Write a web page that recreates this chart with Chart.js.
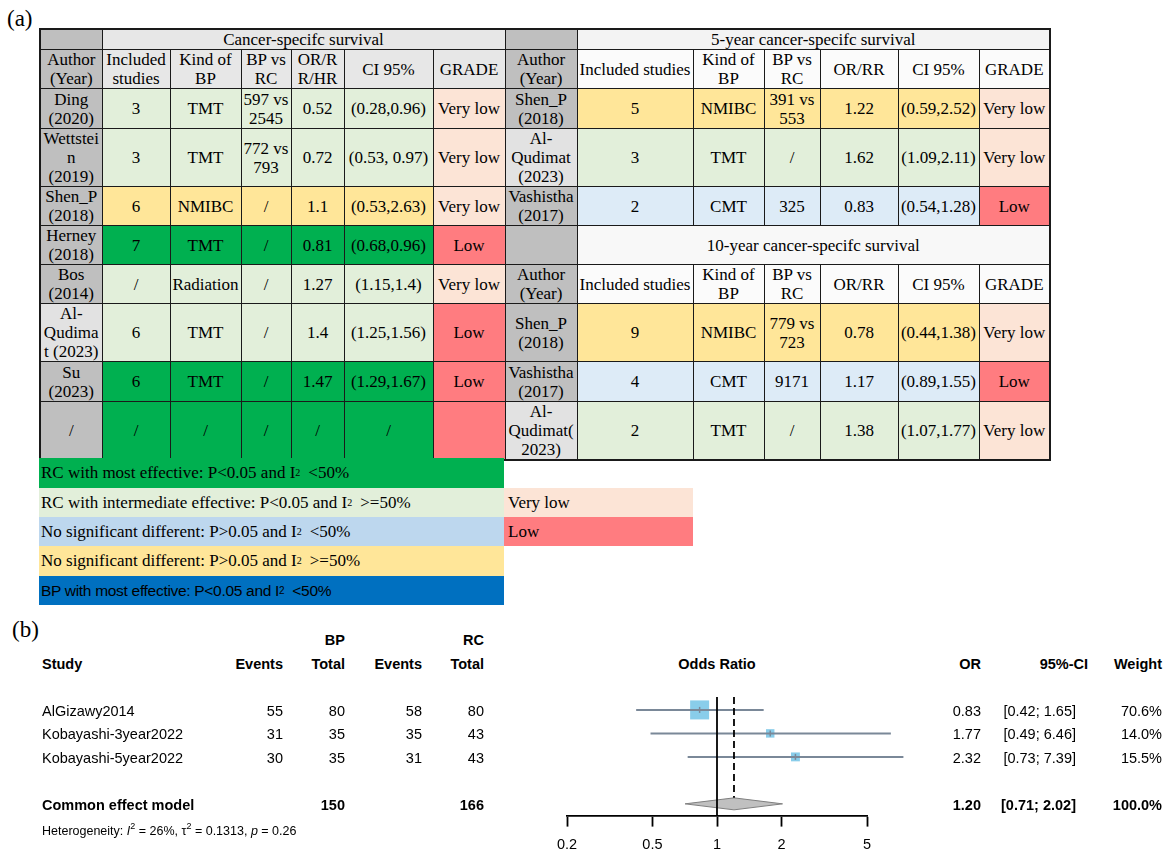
<!DOCTYPE html>
<html>
<head>
<meta charset="utf-8">
<script src="https://cdn.jsdelivr.net/npm/chart.js@4.4.1/dist/chart.umd.min.js"></script>
<style>
  body { margin: 0; width: 1164px; height: 854px; position: relative; overflow: hidden; background: #fff;
         font-family: 'Liberation Serif', 'Times New Roman', serif; color: #000; }
  .panel { position: absolute; font-size: 23px; line-height: 26px; }
  table.grade { position: absolute; left: 39px; top: 28px; width: 1011px; border-collapse: collapse;
                table-layout: fixed; font-size: 17px; border: 2px solid #1a1a1a; }
  table.grade td { border: 1px solid #1a1a1a; padding: 0; text-align: center; vertical-align: middle;
                   white-space: pre-line; line-height: 19px; overflow: hidden; }
  .legend { position: absolute; font-size: 17px; white-space: nowrap; padding-left: 2px; box-sizing: border-box;
            display: flex; align-items: center; }
  .legend sup { font-size: 10px; line-height: 0; vertical-align: 8px; margin-right: 8px; }
  .bpLegend { font-family: 'Liberation Sans Narrow', 'Arial Narrow', 'Liberation Sans', sans-serif; font-size: 15.5px; letter-spacing: -0.3px; }
  .ft { position: absolute; font-family: 'Liberation Sans', Arial, sans-serif; font-size: 14.5px; white-space: nowrap; line-height: 17px; }
  .ft.b { font-weight: bold; }
  .ft.small { font-size: 12.5px; }
  .ft sup { font-size: 9px; line-height: 0; vertical-align: 6px; }
</style>
</head>
<body>
<div class="panel" style="left:7px;top:6px">(a)</div>
<div class="panel" style="left:12px;top:617px">(b)</div>
<table class="grade" id="gradeTable"></table>
<div id="legendBox"></div>
<canvas id="forest" width="1164" height="184" style="position:absolute;left:0;top:680px"></canvas>
<div id="forestText"></div>

<script>
// ---------- (a) GRADE tables ----------
const cssTitle = 'Cancer-specifc survival';
const y5Title = '5-year cancer-specifc survival';
const y10Title = '10-year cancer-specifc survival';
const cssHeader = ['Author\n(Year)', 'Included\nstudies', 'Kind of\nBP', 'BP vs\nRC', 'OR/R\nR/HR', 'CI 95%', 'GRADE'];
const survHeader = ['Author\n(Year)', 'Included studies', 'Kind of\nBP', 'BP vs\nRC', 'OR/RR', 'CI 95%', 'GRADE'];

const cssAuthor = ['Ding\n(2020)', 'Wettstei\nn\n(2019)', 'Shen_P\n(2018)', 'Herney\n(2018)', 'Bos\n(2014)', 'Al-\nQudima\nt (2023)', 'Su\n(2023)', '/'];
const cssStudies = ['3', '3', '6', '7', '/', '6', '6', '/'];
const cssKind = ['TMT', 'TMT', 'NMIBC', 'TMT', 'Radiation', 'TMT', 'TMT', '/'];
const cssBpRc = ['597 vs\n2545', '772 vs\n793', '/', '/', '/', '/', '/', '/'];
const cssEstimate = ['0.52', '0.72', '1.1', '0.81', '1.27', '1.4', '1.47', '/'];
const cssCI = ['(0.28,0.96)', '(0.53, 0.97)', '(0.53,2.63)', '(0.68,0.96)', '(1.15,1.4)', '(1.25,1.56)', '(1.29,1.67)', '/'];
const cssGrade = ['Very low', 'Very low', 'Very low', 'Low', 'Very low', 'Low', 'Low', ''];
const cssGradeLevel = ['Very low', 'Very low', 'Very low', 'Low', 'Very low', 'Low', 'Low', 'Low'];
const cssEffect = ['inter', 'inter', 'nosigHigh', 'most', 'inter', 'inter', 'most', 'most'];

const y5Author = ['Shen_P\n(2018)', 'Al-\nQudimat\n(2023)', 'Vashistha\n(2017)'];
const y5Studies = ['5', '3', '2'];
const y5Kind = ['NMIBC', 'TMT', 'CMT'];
const y5BpRc = ['391 vs\n553', '/', '325'];
const y5Estimate = ['1.22', '1.62', '0.83'];
const y5CI = ['(0.59,2.52)', '(1.09,2.11)', '(0.54,1.28)'];
const y5Grade = ['Very low', 'Very low', 'Low'];
const y5Effect = ['nosigHigh', 'inter', 'nosigLow'];

const y10Author = ['Shen_P\n(2018)', 'Vashistha\n(2017)', 'Al-\nQudimat(\n2023)'];
const y10Studies = ['9', '4', '2'];
const y10Kind = ['NMIBC', 'CMT', 'TMT'];
const y10BpRc = ['779 vs\n723', '9171', '/'];
const y10Estimate = ['0.78', '1.17', '1.38'];
const y10CI = ['(0.44,1.38)', '(0.89,1.55)', '(1.07,1.77)'];
const y10Grade = ['Very low', 'Low', 'Very low'];
const y10Effect = ['nosigHigh', 'nosigLow', 'inter'];

const legendText = ['RC with most effective: P<0.05 and I² <50%',
                    'RC with intermediate effective: P<0.05 and I² >=50%',
                    'No significant different: P>0.05 and I² <50%',
                    'No significant different: P>0.05 and I² >=50%',
                    'BP with most effective: P<0.05 and I² <50%'];
const legendEffect = ['most', 'inter', 'nosigLow', 'nosigHigh', 'bp'];
const gradeLegend = ['Very low', 'Low'];

// ---------- (b) forest plot ----------
const studies = ['AlGizawy2014', 'Kobayashi-3year2022', 'Kobayashi-5year2022'];
const bpEvents = [55, 31, 30];
const bpTotal = [80, 35, 35];
const rcEvents = [58, 35, 31];
const rcTotal = [80, 43, 43];
const oddsRatio = [0.83, 1.77, 2.32];
const ciLower = [0.42, 0.49, 0.73];
const ciUpper = [1.65, 6.46, 7.39];
const weights = [70.6, 14.0, 15.5];
const pooledLabel = 'Common effect model';
const pooledOR = 1.20, pooledLower = 0.71, pooledUpper = 2.02, pooledWeight = 100.0;
const hetI2 = 26, hetTau2 = 0.1313, hetP = 0.26;
const xTicks = [0.2, 0.5, 1, 2, 5];
const nullValue = 1;

// colours
const tableFill = { most: '#00b050', inter: '#e2efda', nosigLow: '#ddebf7', nosigHigh: '#ffe699', bp: '#0070c0' };
const legendFill = { most: '#00b050', inter: '#e2efda', nosigLow: '#bdd7ee', nosigHigh: '#ffe699', bp: '#0070c0' };
const gradeFill = { 'Very low': '#fce4d6', 'Low': '#ff7c80' };
const authorGray = '#bfbfbf', authorLight = '#e2e2e2';

function td(text, bg, span) {
    const c = document.createElement('td');
    c.textContent = text;
    if (bg) c.style.background = bg;
    if (span) c.colSpan = span;
    return c;
}
function dataCells(tr, author, studies, kind, bprc, est, ci, grade, level, effect) {
    tr.appendChild(td(author, author.startsWith('Al-') ? authorLight : authorGray));
    [studies, kind, bprc, est, ci].forEach(v => tr.appendChild(td(v, tableFill[effect])));
    tr.appendChild(td(grade, gradeFill[level]));
}

const table = document.getElementById('gradeTable');
const colgroup = document.createElement('colgroup');
[62, 68, 71, 50, 53, 89, 72, 72, 116, 71, 56, 78, 81, 71].forEach(w => {
    const col = document.createElement('col'); col.style.width = w + 'px'; colgroup.appendChild(col);
});
table.appendChild(colgroup);
const rowHeights = [19, 39, 40, 58, 39, 39, 39, 58, 40, 58];

rowHeights.forEach((h, r) => {
    const tr = document.createElement('tr');
    tr.style.height = h + 'px';
    // left: cancer-specific survival
    if (r === 0) {
        tr.appendChild(td('', authorGray)); tr.appendChild(td(cssTitle, '#e7e7e7', 6));
    } else if (r === 1) {
        cssHeader.forEach((t, k) => tr.appendChild(td(t, k === 0 ? authorGray : '#e7e7e7')));
    } else {
        const i = r - 2;
        dataCells(tr, cssAuthor[i], cssStudies[i], cssKind[i], cssBpRc[i], cssEstimate[i], cssCI[i], cssGrade[i], cssGradeLevel[i], cssEffect[i]);
    }
    // right: 5-year and 10-year
    if (r === 0 || r === 5) {
        tr.appendChild(td('', authorGray)); tr.appendChild(td(r === 0 ? y5Title : y10Title, r === 0 ? '#f3f3f3' : '#f8f8f8', 6));
    } else if (r === 1 || r === 6) {
        survHeader.forEach((t, k) => tr.appendChild(td(t, k === 0 ? authorGray : '#fbfbfb')));
    } else if (r < 5) {
        const i = r - 2;
        dataCells(tr, y5Author[i], y5Studies[i], y5Kind[i], y5BpRc[i], y5Estimate[i], y5CI[i], y5Grade[i], y5Grade[i], y5Effect[i]);
    } else {
        const i = r - 7;
        dataCells(tr, y10Author[i], y10Studies[i], y10Kind[i], y10BpRc[i], y10Estimate[i], y10CI[i], y10Grade[i], y10Grade[i], y10Effect[i]);
    }
    table.appendChild(tr);
});

// legend under the table
const esc = s => s.replace(/&/g, '&amp;').replace(/</g, '&lt;').replace(/>/g, '&gt;');
const legendBox = document.getElementById('legendBox');
const legendTops = [458, 488, 517, 546, 576, 605];
legendText.forEach((t, i) => {
    const d = document.createElement('div');
    d.className = 'legend' + (legendEffect[i] === 'bp' ? ' bpLegend' : '');
    d.style.cssText += `left:39px;width:465px;top:${legendTops[i]}px;height:${legendTops[i + 1] - legendTops[i]}px;background:${legendFill[legendEffect[i]]}`;
    d.innerHTML = esc(t).replace('²', '<sup>2</sup>');
    legendBox.appendChild(d);
});
gradeLegend.forEach((g, i) => {
    const d = document.createElement('div');
    d.className = 'legend';
    d.style.cssText += `left:504px;width:189px;top:${legendTops[i + 1]}px;height:${legendTops[i + 2] - legendTops[i + 1]}px;background:${gradeFill[g]};padding-left:4px`;
    d.textContent = g;
    legendBox.appendChild(d);
});

// ---------- forest plot with Chart.js ----------
const studyRows = studies.map((s, i) => i + 1);
const pooledRow = studies.length + 2;
const lineColor = '#7a8898';
const squareColor = '#89cdea';
const bigSide = 19;

const forestPlugin = {
    id: 'forestExtras',
    afterDatasetsDraw(chart) {
        const { ctx, chartArea, scales: { x, y } } = chart;
        const yp = y.getPixelForValue(pooledRow);
        ctx.save();
        // pooled diamond
        ctx.beginPath();
        ctx.moveTo(x.getPixelForValue(pooledLower), yp);
        ctx.lineTo(x.getPixelForValue(pooledOR), yp - 6);
        ctx.lineTo(x.getPixelForValue(pooledUpper), yp);
        ctx.lineTo(x.getPixelForValue(pooledOR), yp + 6);
        ctx.closePath();
        ctx.fillStyle = '#c0c0c0';
        ctx.fill();
        ctx.strokeStyle = '#7f7f7f';
        ctx.lineWidth = 1;
        ctx.stroke();
        // line of no effect
        const x1 = x.getPixelForValue(nullValue);
        ctx.strokeStyle = '#000';
        ctx.lineWidth = 1.8;
        ctx.beginPath(); ctx.moveTo(x1, chartArea.top); ctx.lineTo(x1, chartArea.bottom); ctx.stroke();
        // common effect estimate
        const xc = x.getPixelForValue(pooledOR);
        ctx.setLineDash([7, 4]);
        ctx.beginPath(); ctx.moveTo(xc, chartArea.top); ctx.lineTo(xc, yp - 6); ctx.stroke();
        ctx.restore();
    }
};

const datasets = [];
studies.forEach((s, i) => {
    datasets.push({
        type: 'line', order: 2, clip: false,
        data: [{ x: ciLower[i], y: studyRows[i] }, { x: ciUpper[i], y: studyRows[i] }],
        borderColor: lineColor, borderWidth: 2, pointRadius: 0, tension: 0
    });
});
datasets.push({
    type: 'scatter', order: 1, clip: false,
    data: studies.map((s, i) => ({ x: oddsRatio[i], y: studyRows[i] })),
    pointStyle: 'line', rotation: 90, pointRadius: 3, borderColor: lineColor, borderWidth: 1.5
});
datasets.push({
    type: 'scatter', order: 3, clip: false,
    data: studies.map((s, i) => ({ x: oddsRatio[i], y: studyRows[i] })),
    pointStyle: 'rect',
    pointRadius: weights.map(w => bigSide * Math.sqrt(w / Math.max(...weights)) / (2 * Math.SQRT1_2)),
    backgroundColor: squareColor, borderColor: squareColor, borderWidth: 0
});

const canvas = document.getElementById('forest');
const chart = new Chart(canvas, {
    type: 'scatter',
    data: { datasets },
    options: {
        responsive: false,
        animation: false,
        events: [],
        layout: { padding: { left: 567, right: 297, top: 17, bottom: 0 } },
        plugins: { legend: { display: false }, tooltip: { enabled: false } },
        scales: {
            x: {
                type: 'logarithmic', min: xTicks[0], max: xTicks[xTicks.length - 1], bounds: 'data',
                afterBuildTicks: scale => { scale.ticks = xTicks.map(v => ({ value: v })); },
                ticks: { callback: v => String(v), color: '#000', autoSkip: false, maxRotation: 0, padding: 10,
                         font: { family: "'Liberation Sans', Arial, sans-serif", size: 14.5 } },
                grid: { display: true, drawOnChartArea: false, drawTicks: true, tickLength: 11, tickColor: '#000', tickWidth: 1.8 },
                border: { display: true, color: '#000', width: 1.8 }
            },
            y: { type: 'linear', display: false, reverse: true, min: 0.45, max: 5.5 }
        }
    },
    plugins: [forestPlugin]
});

// text columns of the forest plot, placed on the chart's own row scale
const textBox = document.getElementById('forestText');
const yScale = chart.scales.y, xScale = chart.scales.x;
const top0 = canvas.offsetTop;
function put(html, px, row, align, cls) {
    const d = document.createElement('div');
    d.className = 'ft' + (cls ? ' ' + cls : '');
    d.innerHTML = html;
    d.style.left = px + 'px';
    d.style.top = (top0 + yScale.getPixelForValue(row) + 1) + 'px';
    d.style.transform = align === 'right' ? 'translate(-100%,-50%)' : align === 'center' ? 'translate(-50%,-50%)' : 'translate(0,-50%)';
    textBox.appendChild(d);
}
const fmt2 = v => v.toFixed(2);
const colStudy = 42, colBpE = 283, colBpT = 345, colRcE = 422, colRcT = 484, colOR = 981, colCI = 1076, colCIh = 1088, colW = 1162;

put('BP', colBpT, -2, 'right', 'b');
put('RC', colRcT, -2, 'right', 'b');
put('Study', colStudy, -1, 'left', 'b');
put('Events', colBpE, -1, 'right', 'b');
put('Total', colBpT, -1, 'right', 'b');
put('Events', colRcE, -1, 'right', 'b');
put('Total', colRcT, -1, 'right', 'b');
put('Odds Ratio', xScale.getPixelForValue(nullValue), -1, 'center', 'b');
put('OR', colOR, -1, 'right', 'b');
put('95%-CI', colCIh, -1, 'right', 'b');
put('Weight', colW, -1, 'right', 'b');

studies.forEach((s, i) => {
    const r = studyRows[i];
    put(s, colStudy, r, 'left');
    put(bpEvents[i], colBpE, r, 'right');
    put(bpTotal[i], colBpT, r, 'right');
    put(rcEvents[i], colRcE, r, 'right');
    put(rcTotal[i], colRcT, r, 'right');
    put(fmt2(oddsRatio[i]), colOR, r, 'right');
    put(`[${fmt2(ciLower[i])}; ${fmt2(ciUpper[i])}]`, colCI, r, 'right');
    put(weights[i].toFixed(1) + '%', colW, r, 'right');
});
put(pooledLabel, colStudy, pooledRow, 'left', 'b');
put(bpTotal.reduce((a, b) => a + b, 0), colBpT, pooledRow, 'right', 'b');
put(rcTotal.reduce((a, b) => a + b, 0), colRcT, pooledRow, 'right', 'b');
put(fmt2(pooledOR), colOR, pooledRow, 'right', 'b');
put(`[${fmt2(pooledLower)}; ${fmt2(pooledUpper)}]`, colCI, pooledRow, 'right', 'b');
put(pooledWeight.toFixed(1) + '%', colW, pooledRow, 'right', 'b');
put(`Heterogeneity: <i>I</i><sup>2</sup> = ${hetI2}%, τ<sup>2</sup> = ${hetTau2}, <i>p</i> = ${hetP}`, colStudy, pooledRow + 1.1, 'left', 'small');
</script>
</body>
</html>
